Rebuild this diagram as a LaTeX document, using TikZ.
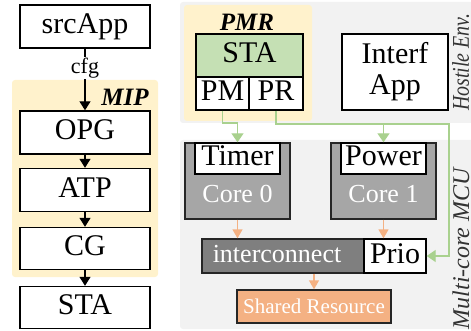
\documentclass[tikz,border=0pt]{standalone}
\usepackage{fontspec}
\setmainfont{Liberation Serif}
\usetikzlibrary{arrows.meta}

\definecolor{regionbg}{HTML}{F2F2F2}
\definecolor{toolbg}{HTML}{FFF2CC}
\definecolor{stagreen}{HTML}{C5E0B4}
\definecolor{linkgreen}{HTML}{A9D18E}
\definecolor{coregrey}{HTML}{A6A6A6}
\definecolor{busgrey}{HTML}{7F7F7F}
\definecolor{shared}{HTML}{F4B183}
\definecolor{edge}{HTML}{262626}

\tikzset{
  plainbox/.style={draw=black, line width=1.4pt, fill=white, inner sep=0pt,
    font=\fontsize{30}{30}\selectfont},
  box/.style={plainbox, text height=20pt, text depth=6pt},
  corebox/.style={draw=edge, line width=1.4pt, fill=coregrey, inner sep=0pt,
    minimum width=105pt, minimum height=76pt},
  coretext/.style={text=white, inner sep=0pt, font=\fontsize{26}{26}\selectfont},
  grouplabel/.style={inner sep=0pt, font=\fontsize{25}{25}\selectfont\bfseries\itshape},
  sidelabel/.style={inner sep=0pt, rotate=90, anchor=south west,
    text=black!80, font=\fontsize{24}{24}\selectfont\itshape},
  flow/.style={line width=1.4pt, -{Triangle[length=9pt,width=11pt]}},
  ctrl/.style={draw=linkgreen, line width=1.4pt,
    -{Triangle[length=9pt,width=12pt,fill=linkgreen]}},
  access/.style={draw=shared, line width=1.4pt,
    -{Triangle[length=9pt,width=10pt,fill=shared]}},
}

\begin{document}
\begin{tikzpicture}[x=1pt,y=-1pt]
\useasboundingbox (0,0) rectangle (471,331);

% ---------- tool chain ----------
\fill[toolbg, rounded corners=3pt] (12,80) rectangle (158,277);
\node[grouplabel] (miplab) at (125,97) {MIP};

\node[box, minimum width=130pt, minimum height=43pt] (src) at (85,26.5) {srcApp};
\node[inner sep=1pt, font=\fontsize{22}{22}\selectfont] (cfg) at (85,68) {cfg};
\node[box, minimum width=130pt, minimum height=43pt] (opg) at (85,132.5) {OPG};
\node[box, minimum width=130pt, minimum height=43pt] (atp) at (85,190) {ATP};
\node[box, minimum width=130pt, minimum height=42pt] (cg)  at (85,248.5) {CG};
\node[box, minimum width=130pt, minimum height=42pt] (sta) at (85,307.5) {STA};

\draw[line width=1.4pt] (src.south) -- (cfg.north);
\draw[flow] (cfg.south) -- (opg.north);
\draw[flow] (opg.south) -- (atp.north);
\draw[flow] (atp.south) -- (cg.north);
\draw[flow] (cg.south) -- (sta.north);

% ---------- hostile environment ----------
\fill[regionbg, rounded corners=3pt] (180,2) rectangle (485,123);
\fill[regionbg, rounded corners=3pt] (180,140) rectangle (485,329);

\fill[toolbg, rounded corners=3pt] (184,5) rectangle (312,121);
\node[grouplabel] (pmrlab) at (247,22) {PMR};

\node[box, fill=stagreen, minimum width=107pt, minimum height=43pt] (pmsta) at (249.5,55.5) {STA};
\node[box, minimum width=53pt, minimum height=33pt] (pm) at (222.5,93.5) {PM};
\node[box, minimum width=54pt, minimum height=33pt] (pr) at (276,93.5) {PR};

\node[plainbox, minimum width=106pt, minimum height=76pt, align=center,
      font=\fontsize{30}{31}\selectfont] (interf) at (395,72) {Interf\\App};

\node[sidelabel] (hostile) at (469.5,111) {\scalebox{0.83}[1]{Hostile Env.}};
\node[sidelabel] (mcu) at (469.5,329.5) {Multi-core MCU};

% ---------- multi-core MCU ----------
\node[corebox] (core0) at (237.5,181) {};
\node[box, minimum width=85pt, minimum height=31pt] (timer) at (237.5,158.5) {Timer};
\node[coretext] (c0lab) at (237.5,194) {Core 0};

\node[corebox] (core1) at (383.5,181) {};
\node[box, minimum width=85pt, minimum height=31pt] (power) at (383.5,158.5) {Power};
\node[coretext] (c1lab) at (383.5,194) {Core 1};

\node[draw=edge, line width=1.4pt, fill=busgrey, inner sep=0pt,
      minimum width=224pt, minimum height=34pt] (bus) at (314,256) {};
\node[coretext, text height=18pt, text depth=5pt] (buslab) at (277,256) {interconnect};
\node[box, minimum width=62pt, minimum height=34pt] (prio) at (395,256) {Prio};

\node[draw=edge, line width=1.4pt, fill=shared, inner sep=0pt, text=white,
      minimum width=154pt, minimum height=33pt,
      font=\fontsize{21}{21}\selectfont] (res) at (314,306.5) {Shared Resource};

% ---------- connectors ----------
\coordinate (pmturn) at (222.5,123);
\coordinate (pwtap) at (383.5,124);
\coordinate (rcorner) at (449,124);
\coordinate (rdown) at (449,256);

\draw[ctrl] (pm.south) |- (pmturn) -| (timer.north);
\draw[ctrl] (pr.south) |- (rcorner) -- (rdown) -- (prio.east);
\draw[ctrl] (pwtap) -- (power.north);

\draw[access] (core0.south) -- (core0.south |- bus.north);
\draw[access] (core1.south) -- (core1.south |- bus.north);
\draw[access] (bus.south) -- (res.north);
\end{tikzpicture}
\end{document}
